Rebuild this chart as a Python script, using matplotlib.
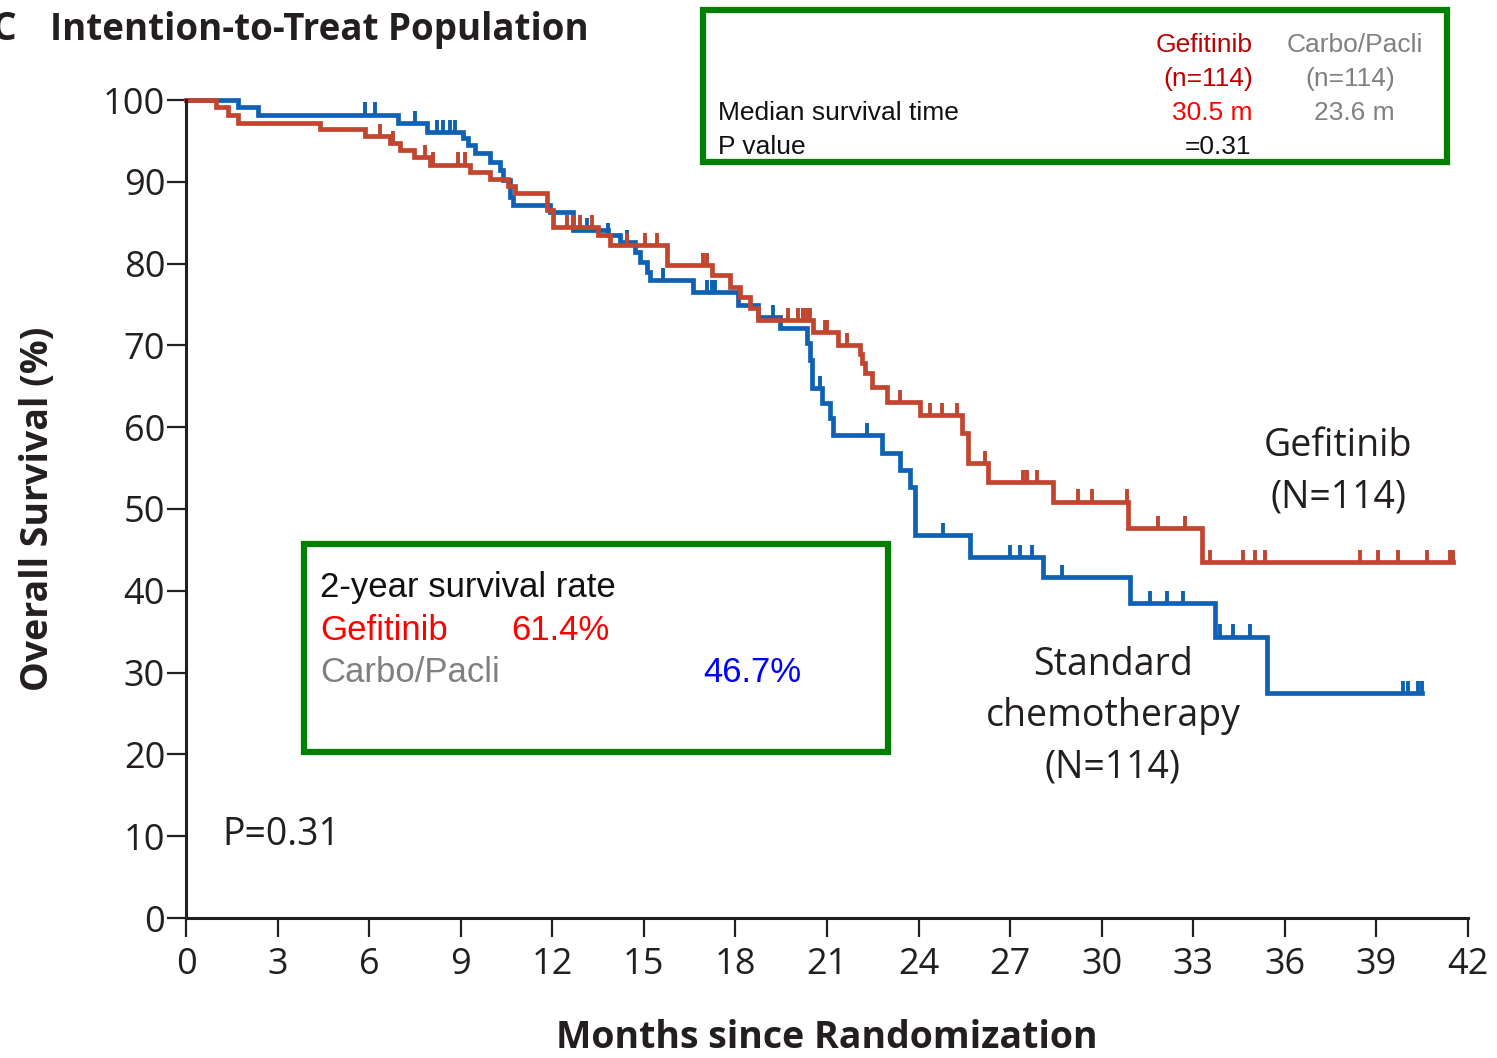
import numpy as np
import matplotlib
matplotlib.use("Agg")
import matplotlib.pyplot as plt
from matplotlib.patches import Rectangle

# Kaplan-Meier steps: time of each event (months) and survival (%) after it
gef_t = [0, 0.98, 1.38, 1.70, 4.39, 5.87, 6.68, 7.01, 7.47, 7.99, 9.31, 9.96,
         10.55, 10.78, 11.83, 12.03, 13.50, 13.89, 15.76, 17.23, 17.82, 18.15,
         18.48, 18.74, 20.54, 21.36, 22.08, 22.15, 22.25, 22.48, 22.97, 24.05,
         25.43, 25.62, 26.28, 28.41, 30.86, 33.29]
gef_s = [100, 99.1, 98.2, 97.2, 96.5, 95.6, 94.7, 93.9, 93.0, 92.1, 91.2, 90.4,
         89.5, 88.6, 86.6, 84.5, 83.5, 82.3, 79.8, 78.6, 77.1, 75.9,
         74.6, 73.1, 71.6, 70.0, 69.0, 67.8, 66.6, 64.9, 63.1, 61.5,
         59.3, 55.6, 53.3, 50.9, 47.7, 43.5]
gef_end = 41.5
gef_cens = [6.36, 6.78, 7.83, 8.09, 8.91, 9.14, 12.48, 12.68, 12.91, 13.30,
            14.45, 15.04, 15.43, 16.94, 17.07, 20.22, 20.35, 20.45, 20.94,
            19.73, 20.05, 20.22, 21.00, 21.65, 23.39, 24.38, 24.77, 25.27,
            26.18, 27.42, 27.55, 27.88, 29.23, 29.69, 30.83, 31.84, 32.73,
            33.55, 34.64, 35.03, 35.36, 38.47, 39.06, 39.71, 40.66, 41.42]

chemo_t = [0, 1.70, 2.36, 6.95, 7.90, 9.08, 9.24, 9.47, 9.96, 10.29, 10.39,
           10.62, 10.71, 11.93, 12.68, 13.83, 14.22, 14.71, 14.88, 15.10, 15.20,
           16.61, 18.09, 18.74, 19.46, 20.35, 20.45, 20.51, 20.84, 21.10, 21.20,
           22.81, 23.39, 23.72, 23.89, 25.69, 28.08, 30.93, 33.72, 35.42]
chemo_s = [100, 99.1, 98.2, 97.2, 96.1, 95.3, 94.5, 93.5, 92.4, 91.4, 90.2,
           88.1, 87.2, 86.3, 84.1, 83.5, 82.6, 81.4, 80.2, 79.0, 78.0,
           76.5, 75.0, 73.5, 72.1, 70.3, 68.2, 64.8, 63.0, 61.1, 59.0,
           56.8, 54.8, 52.7, 46.8, 44.1, 41.7, 38.5, 34.4, 27.5]
chemo_end = 40.5
chemo_cens = [5.86, 6.19, 7.50, 8.22, 8.42, 8.65, 8.81, 13.14, 13.83, 14.45,
              15.63, 17.07, 17.23, 17.33, 19.23, 20.77, 22.32, 24.80, 27.00,
              27.33, 27.72, 28.70, 31.59, 32.14, 32.67, 33.88, 34.31, 34.86,
              39.88, 40.04, 40.37]

xticks = list(range(0, 43, 3))
yticks = list(range(0, 101, 10))

RED = "#c1452f"
BLUE = "#0f62b3"
INK = "#231f20"
W, H = 1497, 1058

fig = plt.figure(figsize=(W / 100, H / 100), dpi=100)
ax = fig.add_axes([186 / W, 1 - 918 / H, (1468 - 186) / W, (918 - 100) / H])


def surv_at(ts, ss, x):
    idx = np.searchsorted(ts, x, side="right") - 1
    return np.asarray(ss)[idx]


for ts, ss, end, cens, col in [(chemo_t, chemo_s, chemo_end, chemo_cens, BLUE),
                               (gef_t, gef_s, gef_end, gef_cens, RED)]:
    xs = list(ts) + [end]
    ys = list(ss) + [ss[-1]]
    ax.step(xs, ys, where="post", color=col, lw=3.4, clip_on=False,
            solid_joinstyle="miter")
    cy = surv_at(ts, ss, np.array(cens))
    ax.vlines(cens, cy, cy + 1.5, color=col, lw=2.8, clip_on=False)
    ax.vlines([end], ss[-1], ss[-1] + 1.5, color=col, lw=2.8, clip_on=False)

ax.set_xlim(0, 42)
ax.set_ylim(0, 100)
ax.set_xticks(xticks)
ax.set_yticks(yticks)
ax.set_xticklabels([str(v) for v in xticks])
ax.set_yticklabels([str(v) for v in yticks])
for side in ["top", "right"]:
    ax.spines[side].set_visible(False)
for side in ["left", "bottom"]:
    ax.spines[side].set_linewidth(2.2)
    ax.spines[side].set_color(INK)
ax.tick_params(axis="both", direction="out", length=14, width=1.6,
               color=INK, labelcolor=INK, labelsize=26)
ax.tick_params(axis="y", pad=1)
ax.tick_params(axis="x", pad=7)
for lab in ax.get_xticklabels() + ax.get_yticklabels():
    lab.set_family("Open Sans")

ax.set_ylabel("Overall Survival (%)", fontsize=27, fontweight="bold",
              family="Open Sans", color=INK, labelpad=33)
ax.set_xlabel("Months since Randomization", fontsize=27, fontweight="bold",
              family="Open Sans", color=INK, labelpad=26)


def ftext(x, y, s, **kw):
    fig.text(x / W, 1 - y / H, s, **kw)


# panel title, letter runs off the left edge
ftext(-8, 30, "C", fontsize=28, fontweight="bold", family="Open Sans",
      color=INK, va="center")
ftext(50, 30, "Intention-to-Treat Population", fontsize=26.5,
      fontweight="bold", family="Open Sans", color=INK, va="center")

# curve labels
chart_font = dict(fontsize=27, family="Open Sans", color=INK,
                  ha="center", va="center", linespacing=1.45)
ftext(1338, 472, "Gefitinib\n(N=114)", **chart_font)
ftext(1113, 716, "Standard\nchemotherapy\n(N=114)", **chart_font)
ftext(222, 835, "P=0.31", fontsize=27, family="Open Sans", color=INK,
      va="center")

# summary boxes
for x0, y0, x1, y1 in [(703, 10, 1447, 162), (304, 544, 888, 752)]:
    fig.add_artist(Rectangle((x0 / W, 1 - y1 / H), (x1 - x0) / W,
                             (y1 - y0) / H, transform=fig.transFigure,
                             fill=False, edgecolor="#008000", lw=4.5))

arial = dict(family="Liberation Sans", fontsize=19, va="center")
ftext(1253, 45, "Gefitinib", color="#c00000", ha="right", **arial)
ftext(1253, 79, "(n=114)", color="#c00000", ha="right", **arial)
ftext(1423, 45, "Carbo/Pacli", color="#808080", ha="right", **arial)
ftext(1350, 79, "(n=114)", color="#808080", ha="center", **arial)
ftext(718, 113, "Median survival time", color="#111111", ha="left", **arial)
ftext(1253, 113, "30.5 m", color="#ff0000", ha="right", **arial)
ftext(1354, 113, "23.6 m", color="#808080", ha="center", **arial)
ftext(718, 147, "P value", color="#111111", ha="left", **arial)
ftext(1251, 147, "=0.31", color="#111111", ha="right", **arial)

big = dict(family="Liberation Sans", fontsize=25, va="center", ha="left")
ftext(320, 587, "2-year survival rate", color="#111111", **big)
ftext(320, 630, "Gefitinib", color="#ff0000", **big)
ftext(511, 630, "61.4%", color="#ff0000", **big)
ftext(320, 672, "Carbo/Pacli", color="#808080", **big)
ftext(703, 672, "46.7%", color="#0000ff", **big)

fig.savefig("out.png", dpi=100)
